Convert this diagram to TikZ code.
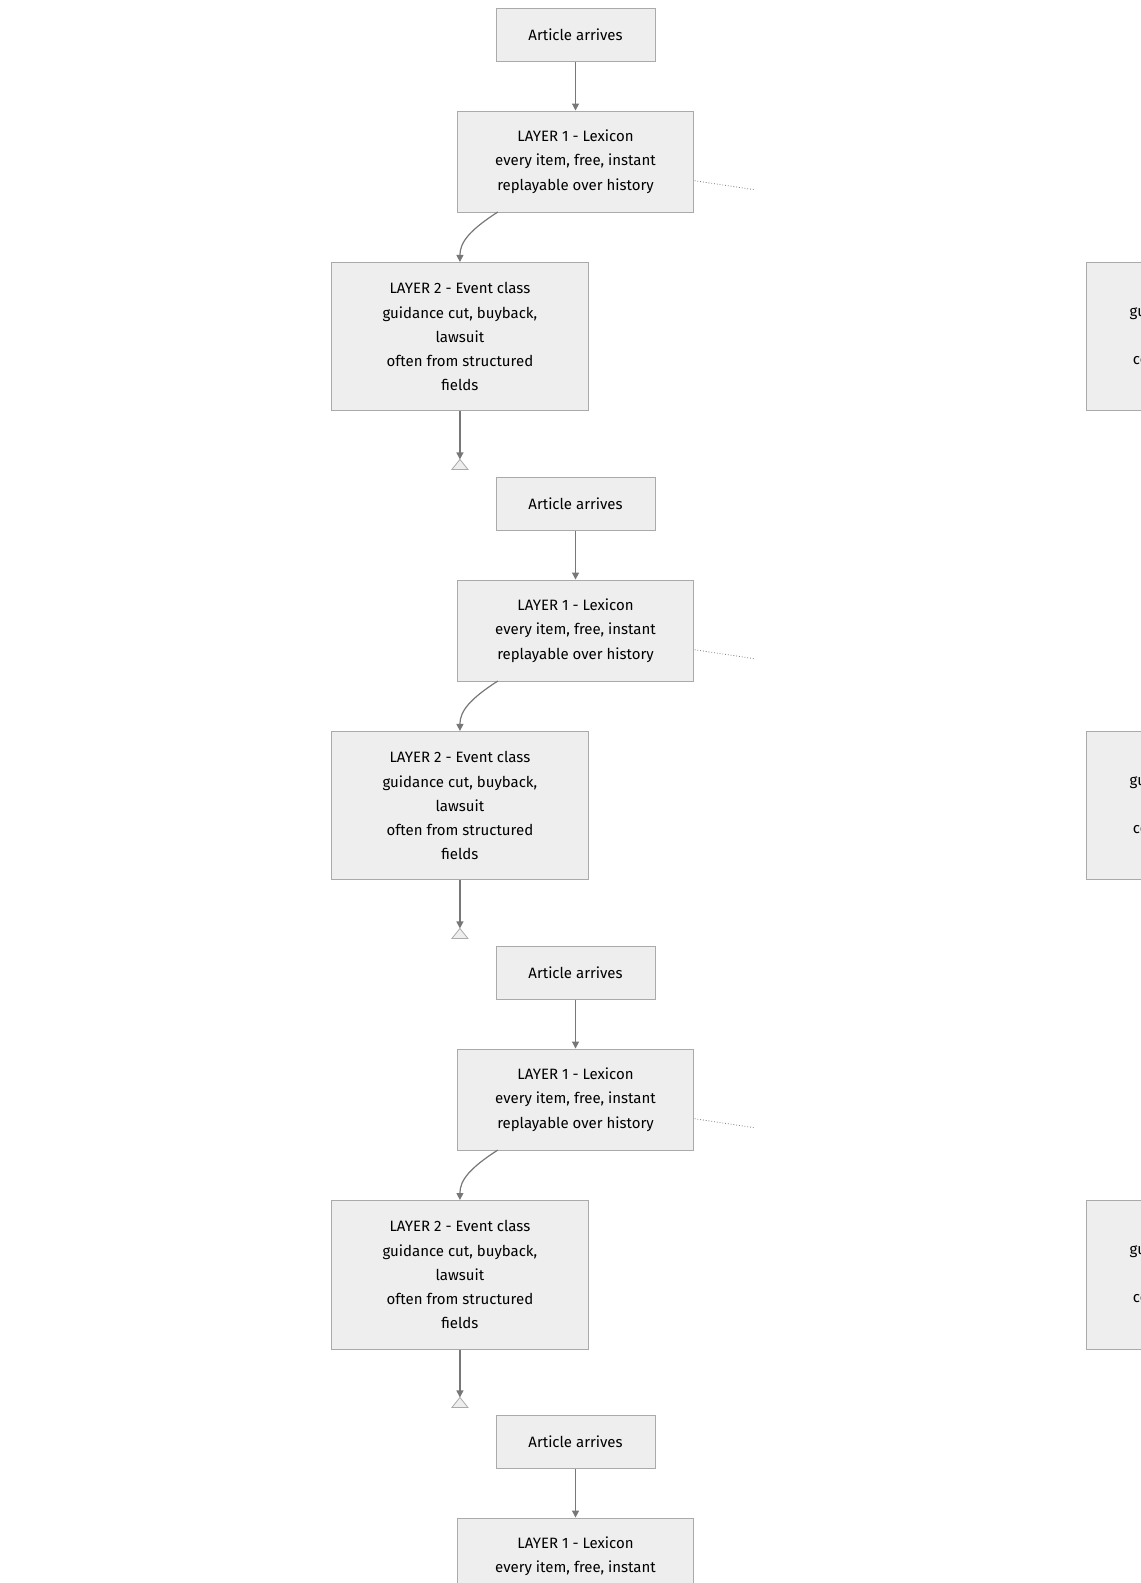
\documentclass[tikz,border=0pt]{standalone}
\usepackage{fontspec}
\setmainfont{Fira Sans}
\usetikzlibrary{arrows.meta}
\definecolor{boxfill}{HTML}{EEEEEE}
\definecolor{boxline}{HTML}{AAAAAA}
\definecolor{edgeline}{HTML}{777777}
\tikzset{
  box/.style={draw=boxline,fill=boxfill,line width=1pt,align=center,inner sep=0pt,
    font=\fontsize{15}{24.2}\selectfont},
  edge/.style={draw=edgeline,line width=1.2pt,-{Triangle[length=7pt,width=7pt]}},
  link/.style={draw=edgeline,line width=0.8pt,dotted}
}
\begin{document}
\begin{tikzpicture}[x=1.0097pt,y=-1.0097pt]
	\useasboundingbox (0,0) rectangle (1130,1567.8);
	\foreach \i in {0,1,2,3}{
		\begin{scope}[yshift={-464.5*1.0097*\i}]
		%article
		\node[box,minimum width=159pt,minimum height=53.5pt] (art\i) at (570,34.5) {Article arrives};
		%layer 1
		\node[box,minimum width=236pt,minimum height=101pt] (lex\i) at (570,160) {LAYER 1 - Lexicon\\every item, free, instant\\replayable over history};
		%layer 2
		\node[box,minimum width=257pt,minimum height=148.5pt] (evt\i) at (455.5,333.5) {LAYER 2 - Event class\\guidance cut, buyback,\\lawsuit\\often from structured\\fields};
		%layer 3, cut off
		\node[box,minimum width=257pt,minimum height=148.5pt] (llm\i) at (1203.5,333.5) {LAYER 3 - LLM\\guidance tones, nuances,\\sarcasm\\costly, context, causality\\only};
		%next article
		\coordinate (nxt\i) at (455.5,455);
		\draw[draw=boxline,fill=boxfill,line width=0.8pt] (nxt\i) -- (447.5,465) -- (463.5,465) -- cycle;
		\coordinate (dot\i) at (748,188);
		%edges
		\draw[edge] (art\i) -- (lex\i);
		\draw[edge] (493,210) .. controls (465,228) and (455.5,240) .. (evt\i.north);
		\draw[edge] (evt\i.south) -- (nxt\i);
		\draw[link] (688,179) -- (dot\i);
		\end{scope}
	}
\end{tikzpicture}
\end{document}
